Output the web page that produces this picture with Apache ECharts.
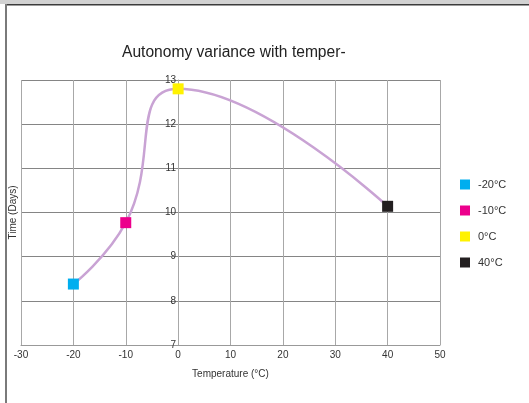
<!DOCTYPE html>
<html>
<head>
<meta charset="utf-8">
<script src="https://cdn.jsdelivr.net/npm/echarts@6/dist/echarts.min.js"></script>
<style>
html, body { margin: 0; padding: 0; background: #fff; }
#main { width: 529px; height: 403px; }
</style>
</head>
<body>
<div id="main"></div>
<script>
// data
var temps = [-20, -10, 0, 40];
var days = [8.38, 9.77, 12.8, 10.14];
var names = ['-20°C', '-10°C', '0°C', '40°C'];
var colors = ['#00aeef', '#ec008c', '#fff200', '#231f20'];

var myChart = echarts.init(document.getElementById('main'));

var series = [
    {
        name: 'curve',
        type: 'line',
        smooth: 0.5,
        showSymbol: false,
        silent: true,
        lineStyle: { color: '#c9a3d4', width: 2.5 },
        data: temps.map(function (t, i) { return [t, days[i]]; }),
        z: 2
    }
];
names.forEach(function (n, i) {
    series.push({
        name: n,
        type: 'scatter',
        symbol: 'rect',
        symbolSize: 11,
        itemStyle: { color: colors[i], opacity: 1 },
        data: [[temps[i], days[i]]],
        z: 3
    });
});

var option = {
    animation: false,
    title: {
        text: 'Autonomy variance with temper-',
        left: 117,
        top: 40,
        textStyle: { fontFamily: 'Liberation Sans', fontSize: 15.6, fontWeight: 'normal', color: '#222' }
    },
    legend: {
        data: names,
        orient: 'vertical',
        left: 455,
        top: 174,
        itemWidth: 10,
        itemHeight: 10,
        itemGap: 15,
        icon: 'rect',
        textStyle: { fontFamily: 'Liberation Sans', fontSize: 11, color: '#333', padding: [0, 0, 0, 3] }
    },
    grid: { left: 21, right: 89, top: 80, bottom: 58, containLabel: false, outerBoundsMode: 'none' },
    xAxis: {
        type: 'value',
        min: -30,
        max: 50,
        interval: 10,
        name: 'Temperature (°C)',
        nameLocation: 'middle',
        nameGap: 24,
        nameTextStyle: { fontFamily: 'Liberation Sans', fontSize: 10, color: '#333' },
        axisLine: { onZero: false, lineStyle: { color: '#999' } },
        axisTick: { show: false },
        axisLabel: { fontFamily: 'Liberation Sans', fontSize: 10, color: '#333', margin: 5 },
        splitLine: { lineStyle: { color: '#a8a8a8', width: 1 } }
    },
    yAxis: {
        type: 'value',
        min: 7,
        max: 13,
        interval: 1,
        offset: -157,
        name: 'Time (Days)',
        nameLocation: 'middle',
        nameGap: 160,
        nameTextStyle: { fontFamily: 'Liberation Sans', fontSize: 10, color: '#333' },
        axisLine: { show: true, onZero: false, lineStyle: { color: '#a8a8a8' } },
        axisTick: { show: false },
        axisLabel: { fontFamily: 'Liberation Sans', fontSize: 10, color: '#333', margin: 2 },
        splitLine: { lineStyle: { color: '#858585', width: 1 } }
    },
    graphic: [
        { type: 'rect', shape: { x: 0, y: 0, width: 529, height: 4 }, style: { fill: '#d2d2d2' }, silent: true },
        { type: 'rect', shape: { x: 5, y: 4, width: 524, height: 1.5 }, style: { fill: '#3c3c3c' }, silent: true },
        { type: 'rect', shape: { x: 5, y: 4, width: 2, height: 399 }, style: { fill: '#7a7a7a' }, silent: true }
    ],
    series: series
};

myChart.setOption(option);
window.onresize = function () { myChart.resize(); };
</script>
</body>
</html>
